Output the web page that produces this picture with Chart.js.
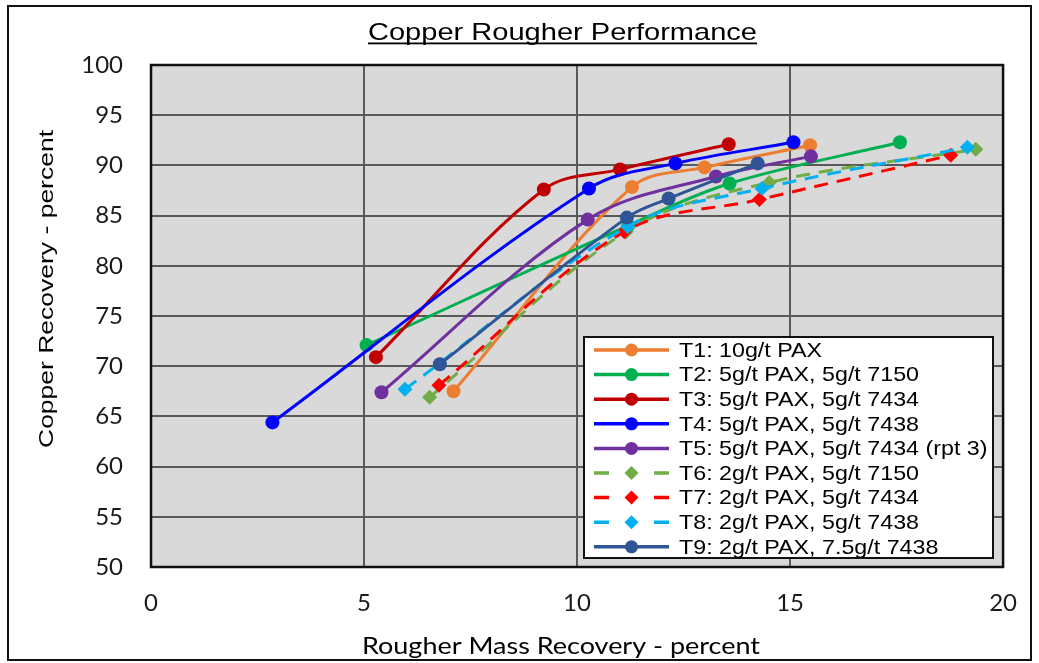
<!DOCTYPE html>
<html>
<head>
<meta charset="utf-8">
<title>Copper Rougher Performance</title>
<script src="https://cdn.jsdelivr.net/npm/chart.js@4/dist/chart.umd.min.js"></script>
<style>
  html, body { margin: 0; padding: 0; background: #ffffff; }
  #wrap { position: relative; width: 1039px; height: 663px; }
  canvas { display: block; }
</style>
</head>
<body>
<div id="wrap"><canvas id="chart" width="1039" height="663"></canvas></div>
<script>
// ---- text ----
const chartTitle = 'Copper Rougher Performance';
const xAxisTitle = 'Rougher Mass Recovery - percent';
const yAxisTitle = 'Copper Recovery - percent';

// ---- tick labels ----
const xTicks = [0, 5, 10, 15, 20];
const yTicks = [50, 55, 60, 65, 70, 75, 80, 85, 90, 95, 100];

// ---- series names ----
const seriesNames = [
  'T1: 10g/t PAX',
  'T2: 5g/t PAX, 5g/t 7150',
  'T3: 5g/t PAX, 5g/t 7434',
  'T4: 5g/t PAX, 5g/t 7438',
  'T5: 5g/t PAX, 5g/t 7434 (rpt 3)',
  'T6: 2g/t PAX, 5g/t 7150',
  'T7: 2g/t PAX, 5g/t 7434',
  'T8: 2g/t PAX, 5g/t 7438',
  'T9: 2g/t PAX, 7.5g/t 7438'
];

// ---- rougher mass recovery (%) / copper recovery (%) per test ----
const t1Mass = [7.10, 11.29, 12.99, 15.47];
const t1Cu   = [67.5, 87.85, 89.8, 92.0];

const t2Mass = [5.06, 11.2, 13.58, 17.58];
const t2Cu   = [72.1, 84.0, 88.2, 92.3];

const t3Mass = [5.28, 9.22, 11.01, 13.56];
const t3Cu   = [70.9, 87.6, 89.6, 92.1];

const t4Mass = [2.85, 10.28, 12.31, 15.08];
const t4Cu   = [64.4, 87.7, 90.2, 92.3];

const t5Mass = [5.41, 10.25, 13.26, 15.49];
const t5Cu   = [67.4, 84.6, 88.9, 90.9];

const t6Mass = [6.54, 11.15, 14.51, 19.36];
const t6Cu   = [66.9, 83.4, 88.3, 91.6];

const t7Mass = [6.76, 11.11, 14.28, 18.77];
const t7Cu   = [68.1, 83.4, 86.6, 91.0];

const t8Mass = [5.96, 11.19, 14.34, 19.16];
const t8Cu   = [67.7, 83.9, 87.7, 91.8];

const t9Mass = [6.78, 11.17, 12.15, 14.24];
const t9Cu   = [70.2, 84.8, 86.7, 90.2];

const massSeries = [t1Mass, t2Mass, t3Mass, t4Mass, t5Mass, t6Mass, t7Mass, t8Mass, t9Mass];
const cuSeries   = [t1Cu, t2Cu, t3Cu, t4Cu, t5Cu, t6Cu, t7Cu, t8Cu, t9Cu];

// ---- styling ----
const seriesColors = ['#ED7D31', '#00B050', '#C00000', '#0000FF', '#7030A0',
                      '#70AD47', '#FF0000', '#00B0F0', '#2F5597'];
const dashedSeries = [false, false, false, false, false, true, true, true, false];
const DASH = [14, 9];

const datasets = seriesNames.map((name, i) => ({
  label: name,
  data: massSeries[i].map((x, k) => ({ x: x, y: cuSeries[i][k] })),
  borderColor: seriesColors[i],
  backgroundColor: seriesColors[i],
  borderWidth: 3,
  borderDash: dashedSeries[i] ? DASH : [],
  tension: 0.35,
  pointStyle: dashedSeries[i] ? 'rectRot' : 'circle',
  pointRadius: dashedSeries[i] ? 7.5 : 7,
  pointBorderWidth: 0,
  fill: false,
  order: -i
}));

// draw a string centred (or left aligned) at a point, stretched to a target width
function fitText(ctx, text, font, x, y, targetWidth, align) {
  ctx.save();
  ctx.font = font;
  const w = ctx.measureText(text).width;
  const sx = targetWidth / w;
  ctx.translate(x, y);
  ctx.scale(sx, 1);
  ctx.textAlign = align || 'center';
  ctx.fillText(text, 0, 0);
  ctx.restore();
  return sx;
}

const decorPlugin = {
  id: 'decor',
  beforeDraw(chart) {
    const { ctx, chartArea: a } = chart;
    ctx.save();
    ctx.fillStyle = '#D9D9D9';
    ctx.fillRect(a.left, a.top, a.right - a.left, a.bottom - a.top);
    ctx.restore();
  },
  beforeDatasetsDraw(chart) {
    const { ctx, chartArea: a } = chart;
    ctx.save();
    ctx.strokeStyle = '#111111';
    ctx.lineWidth = 2.5;
    ctx.strokeRect(a.left, a.top, a.right - a.left, a.bottom - a.top);
    ctx.restore();
  },
  afterDraw(chart) {
    const { ctx } = chart;
    ctx.save();
    ctx.fillStyle = '#000000';
    ctx.textBaseline = 'alphabetic';

    // title, underlined
    const tFont = '24px "Liberation Sans", Arial, sans-serif';
    const tx = 562.5, tw = 389;
    fitText(ctx, chartTitle, tFont, tx, 40, tw);
    ctx.fillRect(tx - tw / 2, 42.5, tw, 1.8);

    // x axis title
    fitText(ctx, xAxisTitle, '23px Lato, sans-serif', 561, 654, 398);

    // y axis title (rotated)
    ctx.save();
    ctx.translate(53, 289);
    ctx.rotate(-Math.PI / 2);
    fitText(ctx, yAxisTitle, '21px "Liberation Sans", Arial, sans-serif', 0, 0, 318);
    ctx.restore();

    // legend box
    const lx = 584, ly = 337, lw = 409, lh = 221;
    ctx.fillStyle = '#ffffff';
    ctx.fillRect(lx, ly, lw, lh);
    ctx.strokeStyle = '#111111';
    ctx.lineWidth = 2;
    ctx.strokeRect(lx, ly, lw, lh);

    const lFont = '21px "Liberation Sans", Arial, sans-serif';
    ctx.font = lFont;
    const lsx = 240 / ctx.measureText(seriesNames[1]).width;
    chart.data.datasets.forEach((ds, i) => {
      const y = 350 + i * 24.6;
      ctx.save();
      ctx.strokeStyle = ds.borderColor;
      ctx.lineWidth = 3.5;
      ctx.beginPath();
      if (dashedSeries[i]) {
        ctx.moveTo(594, y); ctx.lineTo(609, y);
        ctx.moveTo(654, y); ctx.lineTo(669, y);
      } else {
        ctx.moveTo(594, y); ctx.lineTo(669, y);
      }
      ctx.stroke();
      ctx.fillStyle = ds.backgroundColor;
      ctx.beginPath();
      if (dashedSeries[i]) {
        const r = 7;
        ctx.moveTo(631.5, y - r); ctx.lineTo(631.5 + r, y);
        ctx.lineTo(631.5, y + r); ctx.lineTo(631.5 - r, y);
        ctx.closePath();
      } else {
        ctx.arc(631.5, y, 6.5, 0, Math.PI * 2);
      }
      ctx.fill();
      ctx.restore();

      ctx.save();
      ctx.fillStyle = '#000000';
      ctx.font = lFont;
      ctx.textBaseline = 'middle';
      ctx.translate(679, y + 1);
      ctx.scale(lsx, 1);
      ctx.textAlign = 'left';
      ctx.fillText(ds.label, 0, 0);
      ctx.restore();
    });

    // outer frame
    ctx.strokeStyle = '#111111';
    ctx.lineWidth = 2;
    ctx.strokeRect(8, 6, 1023, 654);
    ctx.restore();
  }
};

const gridStyle = { color: '#595959', lineWidth: 2, drawTicks: false };
const tickFont = { family: 'Lato', size: 24 };

new Chart(document.getElementById('chart'), {
  type: 'line',
  data: { datasets: datasets },
  plugins: [decorPlugin],
  options: {
    responsive: false,
    animation: false,
    devicePixelRatio: 1,
    layout: { padding: { left: 0, top: 65, right: 35, bottom: 0 } },
    plugins: {
      legend: { display: false },
      title: { display: false },
      tooltip: { enabled: false }
    },
    scales: {
      x: {
        type: 'linear',
        min: xTicks[0],
        max: xTicks[xTicks.length - 1],
        afterBuildTicks: s => { s.ticks = xTicks.map(v => ({ value: v })); },
        afterFit: s => { s.height = 96; },
        grid: gridStyle,
        border: { display: false },
        ticks: { font: tickFont, color: '#1a1a1a', padding: 22, maxRotation: 0 }
      },
      y: {
        type: 'linear',
        min: yTicks[0],
        max: yTicks[yTicks.length - 1],
        afterBuildTicks: s => { s.ticks = yTicks.map(v => ({ value: v })); },
        afterFit: s => { s.width = 151; },
        grid: gridStyle,
        border: { display: false },
        ticks: { font: tickFont, color: '#1a1a1a', padding: 28 }
      }
    }
  }
});
</script>
</body>
</html>
